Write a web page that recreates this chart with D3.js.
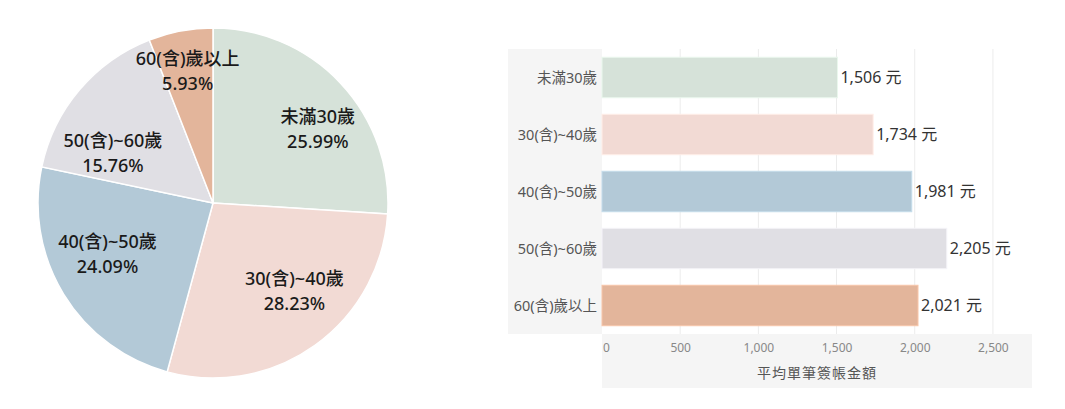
<!DOCTYPE html>
<html>
<head>
<meta charset="utf-8">
<script src="https://cdn.jsdelivr.net/npm/d3@7"></script>
<style>
  body { margin: 0; background: #fff; }
  svg { display: block; font-family: "Noto Sans", "Noto Sans CJK TC", sans-serif; }
</style>
</head>
<body>
<svg id="chart" width="1065" height="409"></svg>
<script>
// age groups, shared by both charts
var ageGroups = ["未滿30歲", "30(含)~40歲", "40(含)~50歲", "50(含)~60歲", "60(含)歲以上"];
// share of cardholders (%)
var shares = [25.99, 28.23, 24.09, 15.76, 5.93];
// average amount per transaction (元)
var avgAmount = [1506, 1734, 1981, 2205, 2021];
var xTicks = [0, 500, 1000, 1500, 2000, 2500];
var groupColors = ["#d6e2d9", "#f2dad4", "#b3c9d7", "#e0dfe4", "#e3b59b"];

var svg = d3.select("#chart");

/************ pie ************/
var cx = 213, cy = 203, radius = 175;
var pie = d3.pie().sort(null).value(function (d) { return d; });
var arc = d3.arc().innerRadius(0).outerRadius(radius);
var labelArc = d3.arc().innerRadius(radius * 0.72).outerRadius(radius * 0.72);
// label nudges so they sit where the original put them
var labelNudge = [[13, 12], [8, -14], [2, -15], [-4, 31], [-2, -8]];

var pieG = svg.append("g").attr("transform", "translate(" + cx + "," + cy + ")");
var slices = pie(shares);

pieG.selectAll("path")
    .data(slices)
    .enter()
    .append("path")
    .attr("d", arc)
    .attr("fill", function (d, i) { return groupColors[i]; })
    .attr("stroke", "#fff")
    .attr("stroke-width", 1.5);

var lbl = pieG.selectAll("text")
    .data(slices)
    .enter()
    .append("text")
    .attr("transform", function (d, i) {
        var c = labelArc.centroid(d);
        return "translate(" + (c[0] + labelNudge[i][0]) + "," + (c[1] + labelNudge[i][1]) + ")";
    })
    .attr("text-anchor", "middle")
    .style("font-size", "18px")
    .style("font-weight", 500)
    .style("fill", "#1a1a1a");
lbl.append("tspan").attr("x", 0).attr("y", -6).text(function (d, i) { return ageGroups[i]; });
lbl.append("tspan").attr("x", 0).attr("y", 19).text(function (d) { return d.data.toFixed(2) + "%"; });

/************ bars ************/
var plot = { left: 602, right: 1032, top: 49, bottom: 334 };

// grey panels behind category labels and axis
svg.append("rect").attr("x", 508).attr("y", plot.top)
    .attr("width", plot.left - 508).attr("height", plot.bottom - plot.top)
    .attr("fill", "#f5f5f5");
svg.append("rect").attr("x", plot.left).attr("y", plot.bottom)
    .attr("width", plot.right - plot.left).attr("height", 54)
    .attr("fill", "#f5f5f5");

var x = d3.scaleLinear().domain([0, 2750]).range([plot.left, plot.right]);
var y = d3.scaleBand().domain(ageGroups).range([plot.top, plot.bottom]).paddingInner(0.29).paddingOuter(0.145);

svg.append("g").selectAll("line")
    .data(xTicks.filter(function (t) { return t > 0; }))
    .enter()
    .append("line")
    .attr("x1", function (d) { return x(d); })
    .attr("x2", function (d) { return x(d); })
    .attr("y1", plot.top)
    .attr("y2", plot.bottom)
    .attr("stroke", "#ececec")
    .attr("stroke-width", 1);

svg.append("g").selectAll("rect")
    .data(avgAmount)
    .enter()
    .append("rect")
    .attr("x", x(0))
    .attr("y", function (d, i) { return y(ageGroups[i]); })
    .attr("width", function (d) { return x(d) - x(0); })
    .attr("height", y.bandwidth())
    .attr("fill", function (d, i) { return groupColors[i]; })
    .attr("stroke", function (d, i) { return d3.rgb(groupColors[i]).brighter(0.25); })
    .attr("stroke-width", 1);

var fmt = d3.format(",");
svg.append("g").selectAll("text")
    .data(avgAmount)
    .enter()
    .append("text")
    .attr("x", function (d) { return x(d) + 3; })
    .attr("y", function (d, i) { return y(ageGroups[i]) + y.bandwidth() / 2; })
    .attr("dy", "0.36em")
    .style("font-size", "16px")
    .style("fill", "#333")
    .text(function (d) { return fmt(d) + " 元"; });

// category labels
svg.append("g").selectAll("text")
    .data(ageGroups)
    .enter()
    .append("text")
    .attr("x", plot.left - 5)
    .attr("y", function (d) { return y(d) + y.bandwidth() / 2; })
    .attr("dy", "0.36em")
    .attr("text-anchor", "end")
    .style("font-size", "14.5px")
    .style("fill", "#555")
    .text(function (d) { return d; });

// x axis
var xAxis = svg.append("g")
    .attr("transform", "translate(0," + plot.bottom + ")")
    .call(d3.axisBottom(x).tickValues(xTicks).tickFormat(d3.format(",")).tickSize(0).tickPadding(9));
xAxis.select(".domain").remove();
xAxis.selectAll("text")
    .style("font-family", "\"Noto Sans\", sans-serif")
    .style("font-size", "12px")
    .style("fill", "#888")
    .attr("dx", function (d) { return d === 0 ? "4px" : 0; });

svg.append("text")
    .attr("x", (plot.left + plot.right) / 2)
    .attr("y", 378)
    .attr("text-anchor", "middle")
    .style("font-size", "14px")
    .style("letter-spacing", "1px")
    .style("fill", "#555")
    .text("平均單筆簽帳金額");
</script>
</body>
</html>
